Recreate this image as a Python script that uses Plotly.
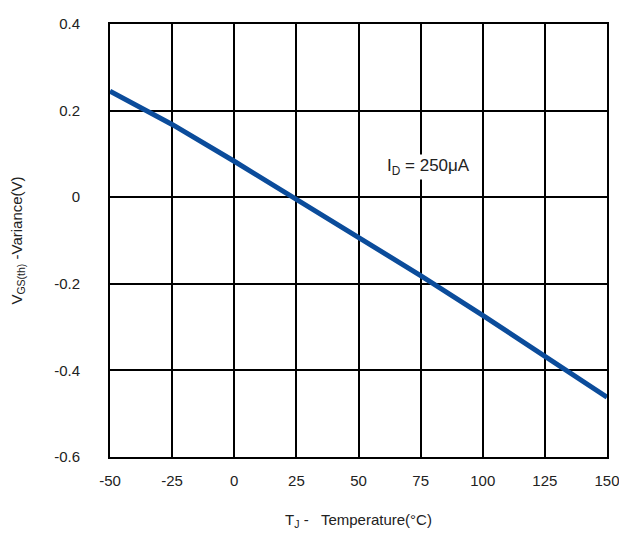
import plotly.graph_objects as go

temps = [-50, -25, 0, 25, 50, 75, 100, 125, 150]
variance = [0.245, 0.168, 0.083, -0.004, -0.092, -0.181, -0.273, -0.368, -0.462]
x_ticks = [-50, -25, 0, 25, 50, 75, 100, 125, 150]
x_tick_labels = ["-50", "-25", "0", "25", "50", "75", "100", "125", "150"]
y_ticks = [-0.6, -0.4, -0.2, 0, 0.2, 0.4]
y_tick_labels = ["-0.6", "-0.4", "-0.2", "0", "0.2", "0.4"]

fig = go.Figure()
fig.add_trace(go.Scatter(x=temps, y=variance, mode="lines",
                         line=dict(color="#0b4c9b", width=5), showlegend=False))

fam = "Liberation Sans, Arial, sans-serif"
fnt = dict(family=fam, size=15, color="#222")

fig.add_annotation(x=78, y=0.069, xref="x", yref="y",
                   text="I<sub>D</sub> = 250μA", showarrow=False,
                   bgcolor="white", font=dict(family=fam, size=17, color="#222"))

fig.update_layout(
    width=619, height=527,
    margin=dict(l=102, r=20, t=16, b=78, autoexpand=False),
    paper_bgcolor="white", plot_bgcolor="white",
    font=fnt,
    xaxis=dict(range=[-50, 150], tickvals=x_ticks, ticktext=x_tick_labels,
               showgrid=True, gridcolor="black", gridwidth=2, zeroline=False,
               showline=True, linecolor="black", linewidth=2, mirror=True,
               ticks="", ticklabelstandoff=9, tickfont=fnt, automargin=False,
               title=dict(text="T<sub>J</sub> -\u00a0\u00a0 Temperature(°C)", font=fnt, standoff=26)),
    yaxis=dict(range=[-0.6, 0.4], tickvals=y_ticks, ticktext=y_tick_labels,
               showgrid=True, gridcolor="black", gridwidth=2, zeroline=False,
               showline=True, linecolor="black", linewidth=2, mirror=True,
               ticks="", ticklabelstandoff=25, tickfont=fnt, automargin=False,
               title=dict(text="V<sub>GS(th)</sub> -Variance(V)", font=fnt, standoff=36)),
)

fig.write_html("out.html")
